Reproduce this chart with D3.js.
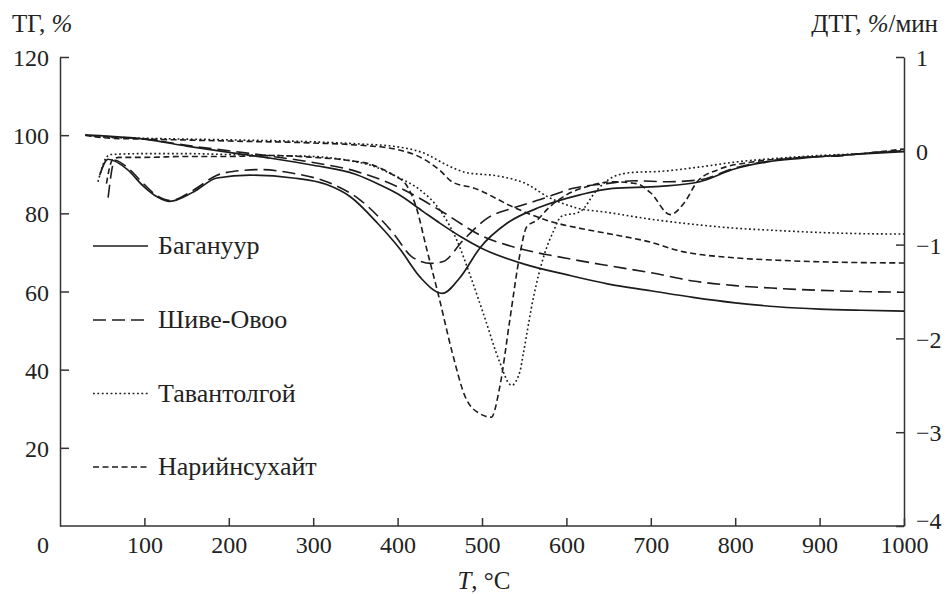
<!DOCTYPE html>
<html>
<head>
<meta charset="utf-8">
<script src="https://cdn.jsdelivr.net/npm/d3@7"></script>
<style>
  html, body { margin: 0; padding: 0; background: #fff; }
  svg text { font-family: "Liberation Serif", "Times New Roman", Tinos, Times, "Nimbus Roman", "Nimbus Roman No9 L", FreeSerif, "DejaVu Serif", "Noto Serif", serif !important; fill: #222; }
</style>
</head>
<body>
<svg id="chart" width="946" height="594"></svg>
<script>
// ---------------- DATA ----------------
const seriesNames = ["Багануур", "Шиве-Овоо", "Тавантолгой", "Нарийнсухайт"];
const xTicks = [100, 200, 300, 400, 500, 600, 700, 800, 900, 1000];
const tgTicks = [20, 40, 60, 80, 100, 120];
const dtgTicks = [1, 0, -1, -2, -3, -4];

// TG, % (left axis): [T, value]
const tgBaganuur = [[30,100],[60,99.7],[100,99.0],[150,97.2],[200,95.6],[250,94.1],[300,92.3],[350,90.0],[380,87.2],[400,85.0],[430,80.5],[450,77.5],[475,74.0],[500,71.0],[550,67.0],[600,64.3],[650,61.9],[700,60.2],[750,58.5],[800,57.1],[850,56.1],[900,55.5],[950,55.2],[1000,55.0]];
const tgShive = [[30,100],[60,99.6],[100,99.0],[150,97.4],[200,96.0],[250,94.6],[300,93.0],[350,90.8],[400,86.8],[450,80.8],[500,74.2],[550,70.7],[600,68.5],[650,66.6],[700,64.8],[750,62.7],[800,61.5],[850,60.8],[900,60.3],[950,60.0],[1000,59.8]];
const tgTavan = [[30,100],[60,99.4],[100,99.2],[200,98.8],[300,98.3],[350,97.8],[400,97.0],[430,95.5],[460,92.2],[480,90.5],[520,89.5],[550,87.8],[580,84.0],[610,81.5],[650,80.2],[700,78.5],[750,77.2],[800,76.2],[850,75.6],[900,75.1],[950,74.8],[1000,74.7]];
const tgNariin = [[30,100],[60,99.2],[100,99.0],[200,98.5],[300,98.0],[350,97.5],[400,96.3],[430,94.0],[450,91.0],[465,88.0],[490,86.5],[540,81.3],[580,78.0],[620,76.0],[660,74.4],[700,72.6],[730,70.6],[800,68.6],[850,68.0],[900,67.6],[1000,67.3]];

// DTG, %/min (right axis): [T, value]
const dtgBaganuur = [[47,-0.26],[57,-0.09],[80,-0.2],[98,-0.37],[115,-0.49],[130,-0.54],[158,-0.44],[186,-0.29],[225,-0.26],[276,-0.29],[316,-0.36],[344,-0.49],[376,-0.77],[403,-1.05],[427,-1.35],[453,-1.52],[474,-1.35],[498,-1.03],[530,-0.77],[569,-0.6],[616,-0.47],[655,-0.40],[711,-0.38],[758,-0.33],[797,-0.2],[837,-0.12],[877,-0.08],[920,-0.05],[956,-0.03],[1000,-0.01]];
const dtgShive = [[57,-0.5],[65,-0.1],[80,-0.18],[100,-0.36],[115,-0.48],[130,-0.53],[158,-0.42],[186,-0.26],[205,-0.22],[237,-0.2],[276,-0.24],[316,-0.33],[355,-0.52],[395,-0.88],[417,-1.13],[440,-1.2],[454,-1.18],[478,-0.95],[506,-0.72],[537,-0.61],[569,-0.52],[608,-0.40],[648,-0.35],[680,-0.32],[720,-0.33],[758,-0.31],[797,-0.19],[840,-0.11],[880,-0.07],[930,-0.05],[960,-0.02],[1000,0.0]];
const dtgTavan = [[45,-0.33],[55,-0.07],[60,-0.04],[100,-0.03],[150,-0.03],[200,-0.04],[250,-0.05],[300,-0.06],[340,-0.1],[370,-0.16],[400,-0.28],[427,-0.42],[450,-0.63],[470,-0.95],[488,-1.38],[504,-1.8],[520,-2.23],[535,-2.5],[545,-2.35],[549,-2.16],[561,-1.56],[573,-1.13],[585,-0.85],[594,-0.7],[616,-0.65],[636,-0.42],[655,-0.28],[679,-0.23],[710,-0.22],[760,-0.17],[800,-0.12],[850,-0.08],[900,-0.05],[950,-0.03],[1000,0.0]];
const dtgNariin = [[55,-0.35],[62,-0.1],[70,-0.07],[100,-0.07],[150,-0.06],[200,-0.06],[250,-0.05],[300,-0.07],[340,-0.1],[370,-0.15],[395,-0.26],[410,-0.36],[422,-0.6],[434,-1.03],[449,-1.56],[465,-2.16],[480,-2.62],[497,-2.8],[511,-2.84],[521,-2.52],[533,-1.8],[545,-1.1],[553,-0.81],[565,-0.74],[580,-0.6],[600,-0.47],[625,-0.38],[655,-0.33],[683,-0.35],[700,-0.45],[723,-0.68],[740,-0.55],[755,-0.33],[780,-0.2],[820,-0.12],[880,-0.07],[950,-0.03],[1000,0.02]];

// ---------------- LAYOUT ----------------
const svg = d3.select("#chart");
const FONT = '"Liberation Serif", "Times New Roman", Tinos, Times, "Nimbus Roman", FreeSerif, "DejaVu Serif", "Noto Serif", serif';
const FS = 24;
const ink = "#1c1c1c";
const axisInk = "#333";

const x = d3.scaleLinear().domain([0, 1000]).range([60, 904]);
const yL = d3.scaleLinear().domain([0, 120]).range([526, 57]);
const yR = d3.scaleLinear().domain([-4, 1]).range([526, 57]);

const styles = [
  { dash: null, width: 1.7 },
  { dash: "13,6", width: 1.6 },
  { dash: "1.8,2.6", width: 1.6 },
  { dash: "6,3.5", width: 1.6 }
];

function styleAxis(g) {
  g.attr("font-family", FONT);
  g.selectAll("path.domain").attr("stroke", axisInk).attr("stroke-width", 1.5);
  g.selectAll(".tick line").attr("stroke", axisInk).attr("stroke-width", 1.5);
  g.selectAll(".tick text").attr("font-family", FONT).attr("font-size", FS).attr("fill", "#222");
}

const intFmt = d3.format("d");

// bottom axis
const gx = svg.append("g").attr("transform", `translate(0,${yL(0)})`)
  .call(d3.axisBottom(x).tickValues(xTicks).tickSize(-8).tickSizeOuter(0).tickPadding(10).tickFormat(intFmt));
styleAxis(gx);
gx.select("path.domain").attr("d", `M${x(0)},0H${x(1000)}`);

// left axis
const gl = svg.append("g").attr("transform", `translate(${x(0)},0)`)
  .call(d3.axisLeft(yL).tickValues(tgTicks).tickSize(-9).tickSizeOuter(0).tickPadding(11).tickFormat(intFmt));
styleAxis(gl);
gl.selectAll(".tick text").attr("dy", "0.36em");

// right axis
const gr = svg.append("g").attr("transform", `translate(${x(1000)},0)`)
  .call(d3.axisRight(yR).tickValues(dtgTicks).tickSize(-8).tickSizeOuter(0).tickPadding(12).tickFormat(intFmt));
styleAxis(gr);
gr.selectAll(".tick text").attr("dy", d => d === -4 ? "0.1em" : "0.36em");

// origin label "0"
svg.append("text").attr("x", 43).attr("y", yL(0) + 10).attr("dy", "0.71em")
  .attr("font-family", FONT).attr("text-anchor", "middle").attr("font-size", FS).text("0");

// axis titles
const tl = svg.append("text").attr("x", 12).attr("y", 32).attr("font-family", FONT).attr("font-size", 25);
tl.append("tspan").text("ТГ, ");
tl.append("tspan").attr("font-style", "italic").text("%");

const tr = svg.append("text").attr("x", 938).attr("y", 32).attr("text-anchor", "end").attr("font-family", FONT).attr("font-size", 25);
tr.append("tspan").text("ДТГ, ");
tr.append("tspan").attr("font-style", "italic").text("%");
tr.append("tspan").text("/мин");

const tx = svg.append("text").attr("x", 484).attr("y", 589).attr("text-anchor", "middle").attr("font-family", FONT).attr("font-size", 25);
tx.append("tspan").attr("font-style", "italic").text("T");
tx.append("tspan").text(", °C");

// ---------------- CURVES ----------------
const lineL = d3.line().x(d => x(d[0])).y(d => yL(d[1])).curve(d3.curveMonotoneX);
const lineR = d3.line().x(d => x(d[0])).y(d => yR(d[1])).curve(d3.curveMonotoneX);

const tgSeries = [tgBaganuur, tgShive, tgTavan, tgNariin];
const dtgSeries = [dtgBaganuur, dtgShive, dtgTavan, dtgNariin];

const curves = svg.append("g").attr("fill", "none").attr("stroke", ink);
tgSeries.forEach((s, i) => {
  curves.append("path").attr("d", lineL(s))
    .attr("stroke-width", styles[i].width)
    .attr("stroke-dasharray", styles[i].dash);
});
dtgSeries.forEach((s, i) => {
  curves.append("path").attr("d", lineR(s))
    .attr("stroke-width", styles[i].width)
    .attr("stroke-dasharray", styles[i].dash);
});

// ---------------- LEGEND ----------------
const legendRows = [246, 320, 393.5, 467];
const lg = svg.append("g");
seriesNames.forEach((name, i) => {
  lg.append("line").attr("x1", 93).attr("x2", 148).attr("y1", legendRows[i]).attr("y2", legendRows[i])
    .attr("stroke", ink).attr("stroke-width", styles[i].width)
    .attr("stroke-dasharray", styles[i].dash);
  lg.append("text").attr("x", 158).attr("y", legendRows[i] + 8)
    .attr("font-family", FONT).attr("font-size", 26).text(name);
});
</script>
</body>
</html>
